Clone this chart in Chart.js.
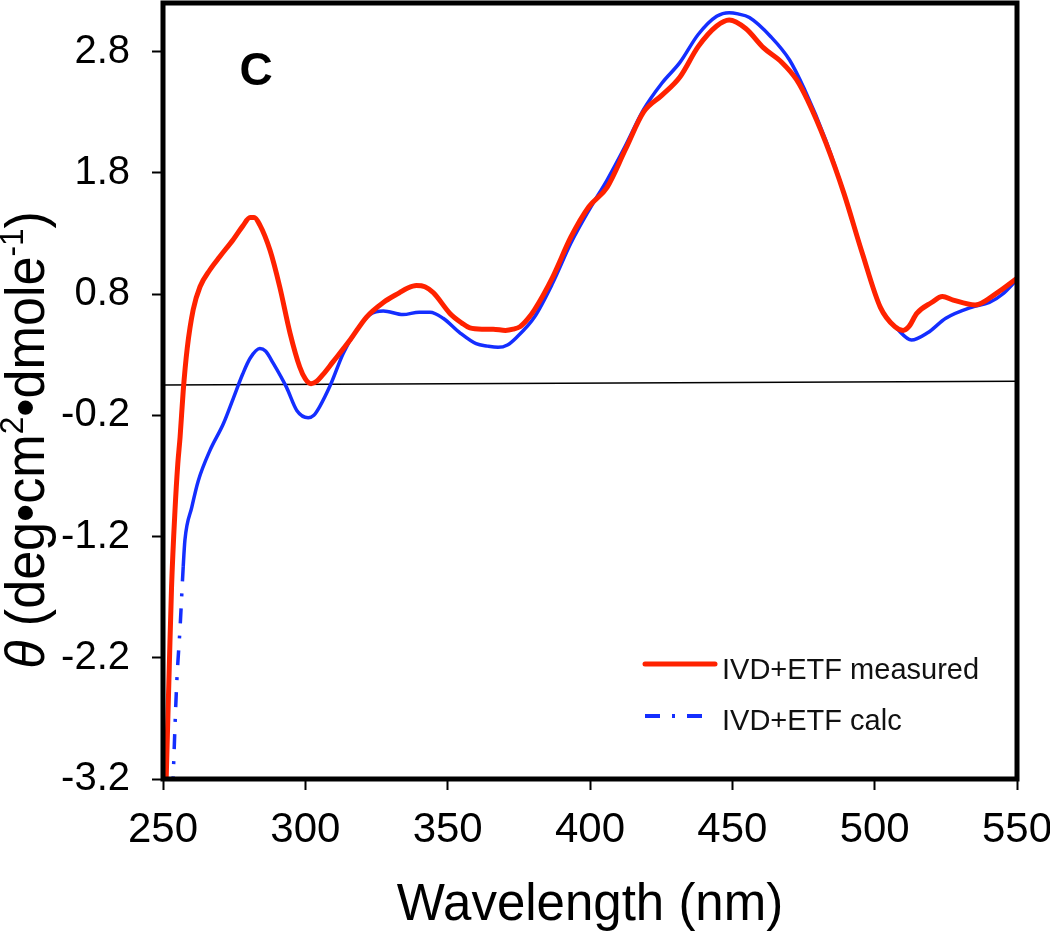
<!DOCTYPE html>
<html>
<head>
<meta charset="utf-8">
<script src="https://cdn.jsdelivr.net/npm/chart.js@4.4.1/dist/chart.umd.min.js"></script>
<style>
  html, body { margin: 0; padding: 0; background: #fff; }
</style>
</head>
<body>
<canvas id="cdChart" width="1050" height="940"></canvas>
<script>
// CD spectrum, IVD+ETF : values
const measuredNm = [251.0, 252.2, 253.0, 254.2, 255.2, 256.0, 257.1, 258.5, 260.6, 263, 266.5, 270, 274.7, 278, 280.6, 282,
  284, 287.6, 291, 294.6, 298, 300, 302, 304, 306, 309.7, 315.7, 321.5, 327.4, 333, 336, 339, 342, 345, 350.8, 355,
  357.8, 362, 366, 370.3, 373, 375.4, 378, 380.5, 386.9, 393.3, 399.6, 406, 412.4, 418.8, 425.3, 431.6, 438, 444.5,
  448.9, 454.7, 461, 467.4, 472.5, 476.4, 482.8, 489.2, 495.6, 502, 507.1, 510, 512, 514.8, 520, 523.8, 527.6, 535.3,
  543, 550];
const measuredTheta = [-3.3, -2.28, -1.62, -0.99, -0.6, -0.38, 0.0, 0.35, 0.67, 0.86, 1.0, 1.11, 1.25, 1.36, 1.43, 1.43,
  1.37, 1.16, 0.86, 0.48, 0.2, 0.1, 0.06, 0.08, 0.13, 0.24, 0.42, 0.61, 0.73, 0.81, 0.85, 0.87, 0.86, 0.81, 0.64, 0.56,
  0.52, 0.51, 0.51, 0.5, 0.51, 0.53, 0.59, 0.67, 0.94, 1.27, 1.52, 1.68, 1.99, 2.3, 2.44, 2.59, 2.84, 3.01,
  3.06, 2.99, 2.83, 2.71, 2.57, 2.4, 2.05, 1.63, 1.14, 0.69, 0.53, 0.5, 0.53, 0.64, 0.73, 0.78, 0.75, 0.71,
  0.81, 0.93];

const calcNm = [253.4, 254.8, 256.0, 257.1, 257.7, 260.1, 262.4, 266.5, 271.2, 274.7, 278, 280.6, 284, 286, 288.7, 293.4,
  297, 301, 303, 305, 309, 313.3, 318, 322.7, 327.4, 334.3, 340, 343.8, 348.4, 354.3, 360, 364, 367.7, 371, 374.1,
  380.5, 386.9, 393.3, 399.6, 406, 412.4, 418.8, 425.3, 431.6, 438, 444.5, 448.9, 452, 456, 463.6, 470.1, 475.3,
  482.8, 489.2, 495.6, 502, 508.4, 512.9, 518.6, 525, 534, 540.3, 545, 550];
const calcTheta = [-3.3, -2.42, -1.95, -1.45, -1.23, -0.96, -0.74, -0.49, -0.27, -0.06, 0.14, 0.27, 0.35, 0.33, 0.23, 0.03,
  -0.16, -0.22, -0.2, -0.13, 0.06, 0.31, 0.5, 0.63, 0.66, 0.63, 0.65, 0.65, 0.6, 0.48, 0.39, 0.37, 0.36, 0.38, 0.44,
  0.61, 0.89, 1.22, 1.49, 1.74, 2.02, 2.32, 2.54, 2.71, 2.94, 3.09, 3.12, 3.11, 3.08, 2.92, 2.73, 2.49,
  2.07, 1.63, 1.14, 0.69, 0.5, 0.42, 0.48, 0.6, 0.69, 0.73, 0.8, 0.92];

const baselineNm = [250, 550];
const baselineTheta = [0.05, 0.08];

const xTickLabels = [250, 300, 350, 400, 450, 500, 550];
const yTickLabels = [-3.2, -2.2, -1.2, -0.2, 0.8, 1.8, 2.8];

const RED = 'rgb(255, 34, 0)';
const BLUE = 'rgb(20, 46, 255)';
const FONT = "'Liberation Sans', Arial, Helvetica, sans-serif";
const dashDot = [15, 12, 3, 12];

// minor ticks: every 25 nm / every 0.25 units
const xTicks = [];
xTickLabels.forEach((v, i) => {
    xTicks.push(v);
    if (i < xTickLabels.length - 1) xTicks.push(v + 25);
});
const yTicks = [];
yTickLabels.forEach(v => {
    yTicks.push(v);
    for (let k = 1; k <= 3; k++) {
        const m = +(v + 0.25 * k).toFixed(2);
        if (m <= 3.2) yTicks.push(m);
    }
});

function isMajor(list, v) {
    return list.some(t => Math.abs(t - v) < 1e-6);
}

// frame, panel letter, y title and legend
const decorations = {
    id: 'decorations',
    afterDatasetsDraw(chart) {
        const ctx = chart.ctx;
        const a = chart.chartArea;
        ctx.save();
        ctx.strokeStyle = '#000';
        ctx.lineWidth = 5;
        ctx.strokeRect(a.left, a.top, a.right - a.left, a.bottom - a.top);
        ctx.restore();
    },
    afterDraw(chart) {
        const ctx = chart.ctx;
        ctx.save();

        // panel letter
        ctx.fillStyle = '#000';
        ctx.font = 'bold 46px ' + FONT;
        ctx.textAlign = 'center';
        ctx.textBaseline = 'alphabetic';
        ctx.fillText('C', 256, 85);

        // y axis title, rotated, with italic theta and superscripts
        const big = 56, small = 34;
        const parts = [
            { t: '\u03B8', f: 'italic ' + big + 'px ' + FONT, dy: 0 },
            { t: ' (deg\u2022cm', f: big + 'px ' + FONT, dy: 0 },
            { t: '2', f: small + 'px ' + FONT, dy: -21 },
            { t: '\u2022dmole', f: big + 'px ' + FONT, dy: 0 },
            { t: '-1', f: small + 'px ' + FONT, dy: -21 },
            { t: ')', f: big + 'px ' + FONT, dy: 0 }
        ];
        let total = 0;
        parts.forEach(p => { ctx.font = p.f; p.w = ctx.measureText(p.t).width; total += p.w; });
        ctx.translate(44, 440);
        ctx.rotate(-Math.PI / 2);
        ctx.scale(0.93, 1);
        ctx.textAlign = 'left';
        let cx = -total / 2;
        parts.forEach(p => {
            ctx.font = p.f;
            ctx.fillText(p.t, cx, p.dy);
            cx += p.w;
        });
        ctx.setTransform(1, 0, 0, 1, 0, 0);

        // legend
        const rows = [
            { ds: chart.data.datasets[0], y: 664, len: 70, base: 679 },
            { ds: chart.data.datasets[1], y: 716, len: 57, base: 730 }
        ];
        rows.forEach((r, i) => {
            ctx.beginPath();
            ctx.strokeStyle = r.ds.borderColor;
            ctx.lineWidth = i === 0 ? 5 : 4;
            ctx.lineCap = i === 0 ? 'round' : 'butt';
            ctx.setLineDash(r.ds.borderDash || []);
            ctx.moveTo(645, r.y);
            ctx.lineTo(645 + r.len, r.y);
            ctx.stroke();
            ctx.setLineDash([]);
            ctx.fillStyle = '#111';
            ctx.font = '29px ' + FONT;
            ctx.textAlign = 'left';
            ctx.fillText(r.ds.label, 722, r.base);
        });
        ctx.restore();
    }
};

const ctx = document.getElementById('cdChart').getContext('2d');
new Chart(ctx, {
    type: 'line',
    data: {
        datasets: [{
            label: 'IVD+ETF measured',
            data: measuredNm.map((x, i) => ({ x: x, y: measuredTheta[i] })),
            borderColor: RED,
            borderWidth: 5,
            pointRadius: 0,
            cubicInterpolationMode: 'monotone'
        }, {
            label: 'IVD+ETF calc',
            data: calcNm.map((x, i) => ({ x: x, y: calcTheta[i] })),
            borderColor: BLUE,
            borderWidth: 3.5,
            borderDash: dashDot,
            pointRadius: 0,
            cubicInterpolationMode: 'monotone',
            segment: {
                // only the steep tail shows the dash-dot pattern
                borderDash: c => (c.p0.parsed.y < -1.35 && c.p1.parsed.y < -1.35) ? undefined : []
            }
        }, {
            label: 'baseline',
            data: baselineNm.map((x, i) => ({ x: x, y: baselineTheta[i] })),
            borderColor: '#000',
            borderWidth: 1.5,
            pointRadius: 0
        }]
    },
    options: {
        responsive: false,
        animation: false,
        layout: { padding: { top: 3, right: 33, left: 0, bottom: 0 } },
        plugins: {
            legend: { display: false },
            tooltip: { enabled: false }
        },
        scales: {
            x: {
                type: 'linear',
                min: 250,
                max: 550,
                afterBuildTicks: s => { s.ticks = xTicks.map(v => ({ value: v })); },
                afterFit: s => { s.height = 161; s.paddingLeft = 0; s.paddingRight = 0; },
                border: { display: false },
                grid: { drawOnChartArea: false, tickLength: 11, tickWidth: 2, tickColor: '#000' },
                ticks: {
                    autoSkip: false,
                    maxRotation: 0,
                    padding: 15,
                    color: '#000',
                    font: { family: FONT, size: 42 },
                    callback: v => isMajor(xTickLabels, v) ? String(v) : null
                },
                title: {
                    display: true,
                    text: 'Wavelength (nm)',
                    color: '#000',
                    font: { family: FONT, size: 51, lineHeight: 1.2 },
                    padding: { top: 0, bottom: 3 }
                }
            },
            y: {
                min: -3.2,
                max: 3.2,
                afterBuildTicks: s => { s.ticks = yTicks.map(v => ({ value: v })); },
                afterFit: s => { s.width = 163; s.paddingTop = 0; s.paddingBottom = 0; },
                border: { display: false },
                grid: { drawOnChartArea: false, tickLength: 11, tickWidth: 2, tickColor: '#000' },
                ticks: {
                    autoSkip: false,
                    padding: 22,
                    color: '#000',
                    font: { family: FONT, size: 40 },
                    callback: v => isMajor(yTickLabels, v) ? v.toFixed(1) : null
                }
            }
        }
    },
    plugins: [decorations]
});
</script>
</body>
</html>
